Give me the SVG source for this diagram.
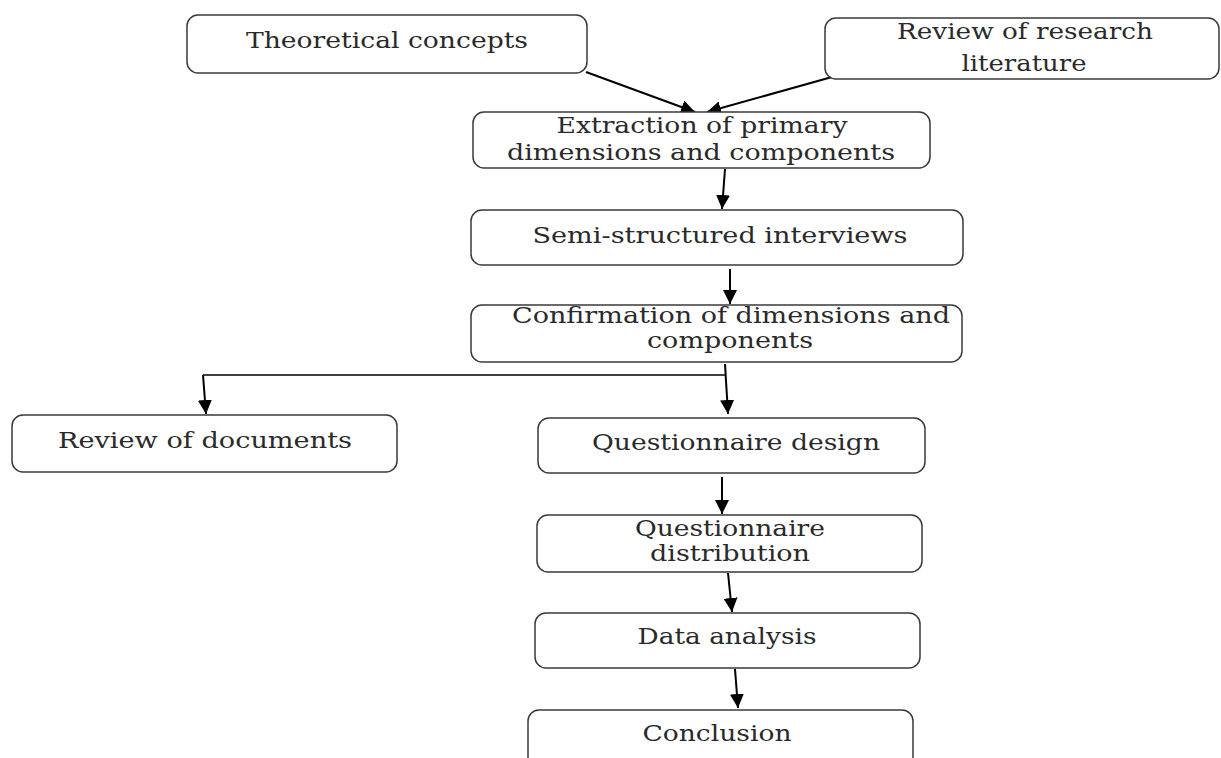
<svg xmlns="http://www.w3.org/2000/svg" width="1221" height="758" viewBox="0 0 1221 758">
<style>
.box{fill:#fff;stroke:#3a3a3a;stroke-width:1.5}
.t{font-family:"DejaVu Serif","Liberation Serif",serif;font-size:21.5px;fill:#2a2a2a;text-anchor:middle}
.c{stroke:#000;stroke-width:2;fill:none}
</style>
<defs>
<marker id="ah" viewBox="0 0 10 10" refX="10" refY="5" markerWidth="7" markerHeight="7" markerUnits="strokeWidth" orient="auto">
<path d="M0,0 L10,5 L0,10 z" fill="#000"/>
</marker>
</defs>
<rect width="1221" height="758" fill="#fff"/>
<g id="connectors">
<line class="c" x1="586" y1="72" x2="695" y2="112" marker-end="url(#ah)"/>
<line class="c" x1="832" y1="77" x2="707" y2="112" marker-end="url(#ah)"/>
<line class="c" x1="725" y1="169" x2="722" y2="209" marker-end="url(#ah)"/>
<line class="c" x1="730" y1="269" x2="730" y2="304" marker-end="url(#ah)"/>
<polyline class="c" points="725,375 203,375" style="stroke-width:1.6"/>
<line class="c" x1="203" y1="375" x2="206" y2="414" marker-end="url(#ah)"/>
<line class="c" x1="725" y1="364" x2="728" y2="414" marker-end="url(#ah)"/>
<line class="c" x1="722" y1="477" x2="722" y2="514" marker-end="url(#ah)"/>
<line class="c" x1="728" y1="573" x2="732" y2="612" marker-end="url(#ah)"/>
<line class="c" x1="735" y1="669" x2="738" y2="708" marker-end="url(#ah)"/>
</g>
<g id="n1"><rect class="box" x="187" y="15" width="400" height="58" rx="11"/><text class="t" x="387" y="48" textLength="282" lengthAdjust="spacingAndGlyphs">Theoretical concepts</text></g>
<g id="n2"><rect class="box" x="825" y="18" width="394" height="61" rx="11"/><text class="t" x="1025" y="39" textLength="256" lengthAdjust="spacingAndGlyphs">Review of research</text><text class="t" x="1024" y="71" textLength="125" lengthAdjust="spacingAndGlyphs">literature</text></g>
<g id="n3"><rect class="box" x="473" y="112" width="457" height="56" rx="11"/><text class="t" x="702" y="133" textLength="291" lengthAdjust="spacingAndGlyphs">Extraction of primary</text><text class="t" x="701" y="160" textLength="388" lengthAdjust="spacingAndGlyphs">dimensions and components</text></g>
<g id="n4"><rect class="box" x="471" y="210" width="492" height="55" rx="11"/><text class="t" x="720" y="243" textLength="375" lengthAdjust="spacingAndGlyphs">Semi-structured interviews</text></g>
<g id="n5"><rect class="box" x="471" y="305" width="491" height="57" rx="11"/><text class="t" x="731" y="323" textLength="438" lengthAdjust="spacingAndGlyphs">Confirmation of dimensions and</text><text class="t" x="730" y="348" textLength="166" lengthAdjust="spacingAndGlyphs">components</text></g>
<g id="n6"><rect class="box" x="12" y="415" width="385" height="57" rx="11"/><text class="t" x="205" y="448" textLength="294" lengthAdjust="spacingAndGlyphs">Review of documents</text></g>
<g id="n7"><rect class="box" x="538" y="418" width="387" height="55" rx="11"/><text class="t" x="736" y="450" textLength="288" lengthAdjust="spacingAndGlyphs">Questionnaire design</text></g>
<g id="n8"><rect class="box" x="537" y="515" width="385" height="57" rx="11"/><text class="t" x="730" y="536" textLength="190" lengthAdjust="spacingAndGlyphs">Questionnaire</text><text class="t" x="730" y="561" textLength="160" lengthAdjust="spacingAndGlyphs">distribution</text></g>
<g id="n9"><rect class="box" x="535" y="613" width="385" height="55" rx="11"/><text class="t" x="727" y="644" textLength="179" lengthAdjust="spacingAndGlyphs">Data analysis</text></g>
<g id="n10"><rect class="box" x="528" y="710" width="385" height="70" rx="11"/><text class="t" x="717" y="741" textLength="149" lengthAdjust="spacingAndGlyphs">Conclusion</text></g>
</svg>
